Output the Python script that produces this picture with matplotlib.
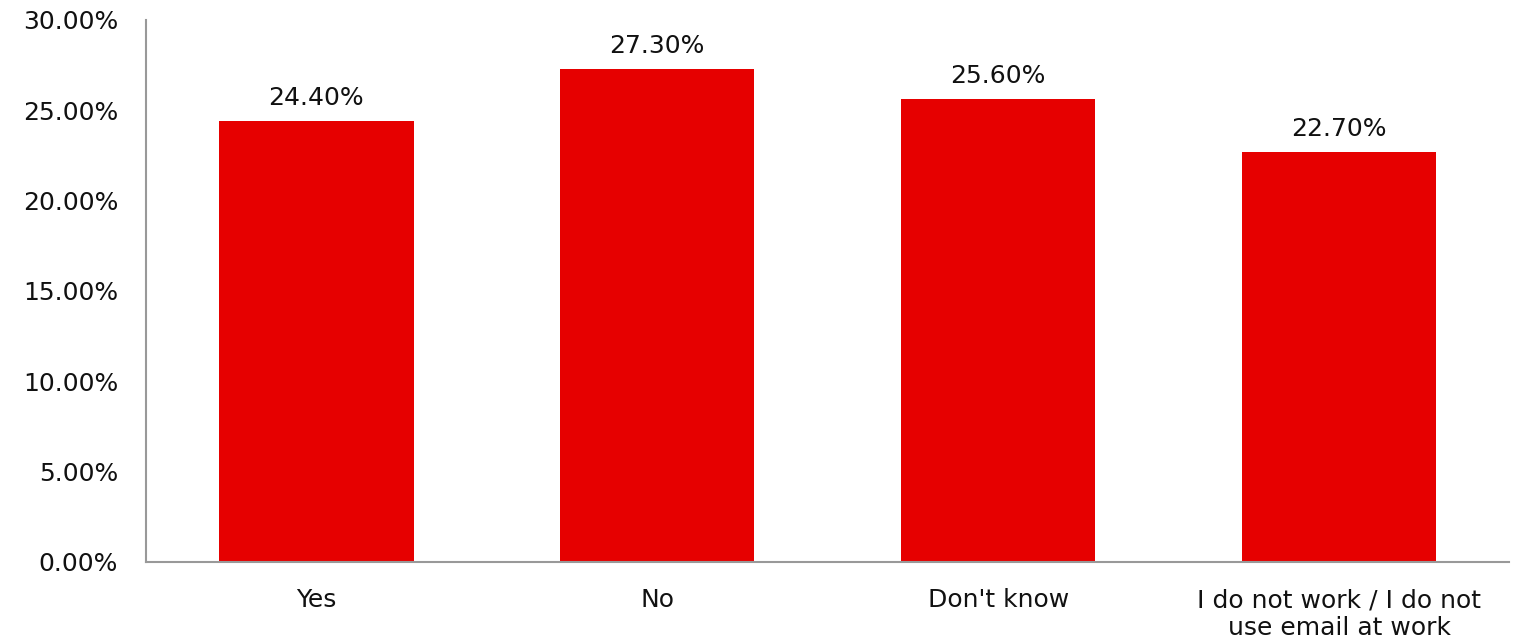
import matplotlib.pyplot as plt
from matplotlib.ticker import FuncFormatter

categories = ['Yes', 'No', "Don't know", 'I do not work / I do not\nuse email at work']
values = [24.4, 27.3, 25.6, 22.7]

plt.rcParams['font.family'] = ['DejaVu Sans']

fig = plt.figure(figsize=(15.14, 6.43), dpi=100)
ax = fig.add_axes([0.0964, 0.126, 0.9006, 0.843])

x = range(len(categories))
bars = ax.bar(x, values, width=0.57, color='#e60000')

for b, v in zip(bars, values):
    ax.annotate('%.2f%%' % v, (b.get_x() + b.get_width() / 2, v),
                xytext=(0, 8), textcoords='offset points',
                ha='center', va='bottom', fontsize=18, color='#111111')

ax.set_xlim(-0.5, len(categories) - 0.5)
ax.set_ylim(0, 30)
ax.set_yticks([0, 5, 10, 15, 20, 25, 30])
ax.yaxis.set_major_formatter(FuncFormatter(lambda v, p: '%.2f%%' % v))
ax.set_xticks(list(x))
ax.set_xticklabels(categories)
ax.tick_params(axis='both', length=0, labelsize=18, colors='#111111')
ax.tick_params(axis='x', pad=19)
ax.tick_params(axis='y', pad=20)

for s in ['top', 'right']:
    ax.spines[s].set_visible(False)
for s in ['left', 'bottom']:
    ax.spines[s].set_color('#999999')
    ax.spines[s].set_linewidth(1.5)

fig.savefig('out.png', dpi=100)
